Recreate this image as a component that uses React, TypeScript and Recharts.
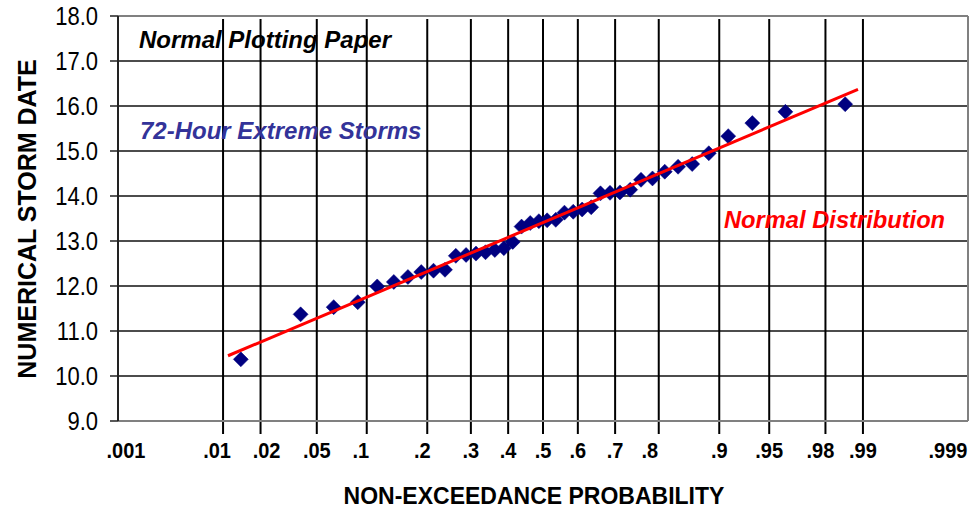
import React from 'react';
import { ComposedChart, Scatter, XAxis, YAxis, CartesianGrid, ReferenceLine } from 'recharts';

// Probability grid of the normal plotting paper
const probabilityTicks = [0.001, 0.01, 0.02, 0.05, 0.1, 0.2, 0.3, 0.4, 0.5, 0.6, 0.7, 0.8, 0.9, 0.95, 0.98, 0.99, 0.999];
const probabilityLabels = ['.001', '.01', '.02', '.05', '.1', '.2', '.3', '.4', '.5', '.6', '.7', '.8', '.9', '.95', '.98', '.99', '.999'];

// 72-hour extreme storms: plotting position and numerical storm date
const stormProbability = [
  0.014, 0.039, 0.064, 0.089, 0.114, 0.139, 0.163, 0.188, 0.213, 0.238,
  0.263, 0.288, 0.313, 0.338, 0.363, 0.388, 0.413, 0.438, 0.463, 0.488,
  0.512, 0.537, 0.562, 0.587, 0.612, 0.637, 0.662, 0.687, 0.712, 0.737,
  0.762, 0.787, 0.812, 0.837, 0.861, 0.886, 0.911, 0.936, 0.961, 0.986,
];
const stormDate = [
  10.37, 11.37, 11.53, 11.64, 11.99, 12.09, 12.2, 12.31, 12.34, 12.36,
  12.67, 12.69, 12.72, 12.75, 12.8, 12.84, 12.98, 13.32, 13.4, 13.44,
  13.46, 13.47, 13.63, 13.65, 13.7, 13.75, 14.06, 14.07, 14.08, 14.14,
  14.36, 14.39, 14.54, 14.65, 14.71, 14.95, 15.33, 15.62, 15.87, 16.04,
];

// Fitted normal distribution (straight line on normal paper)
const fitProbability = [0.011, 0.989];
const fitDate = [10.45, 16.37];

const dateTicks = [9, 10, 11, 12, 13, 14, 15, 16, 17, 18];

// Standard normal quantile (Acklam's rational approximation)
function normInv(p: number): number {
  const a = [-3.969683028665376e1, 2.209460984245205e2, -2.759285104469687e2, 1.38357751867269e2, -3.066479806614716e1, 2.506628277459239];
  const b = [-5.447609879822406e1, 1.615858368580409e2, -1.556989798598866e2, 6.680131188771972e1, -1.328068155288572e1];
  const c = [-7.784894002430293e-3, -3.223964580411365e-1, -2.400758277161838, -2.549732539343734, 4.374664141464968, 2.938163982698783];
  const d = [7.784695709041462e-3, 3.224671290700398e-1, 2.445134137142996, 3.754408661907416];
  const pl = 0.02425;
  if (p < pl) {
    const q = Math.sqrt(-2 * Math.log(p));
    return (((((c[0] * q + c[1]) * q + c[2]) * q + c[3]) * q + c[4]) * q + c[5]) / ((((d[0] * q + d[1]) * q + d[2]) * q + d[3]) * q + 1);
  }
  if (p > 1 - pl) {
    const q = Math.sqrt(-2 * Math.log(1 - p));
    return -(((((c[0] * q + c[1]) * q + c[2]) * q + c[3]) * q + c[4]) * q + c[5]) / ((((d[0] * q + d[1]) * q + d[2]) * q + d[3]) * q + 1);
  }
  const q = p - 0.5;
  const r = q * q;
  return ((((((a[0] * r + a[1]) * r + a[2]) * r + a[3]) * r + a[4]) * r + a[5]) * q) / (((((b[0] * r + b[1]) * r + b[2]) * r + b[3]) * r + b[4]) * r + 1);
}

const zTicks = probabilityTicks.map(normInv);
const zMin = zTicks[0];
const zMax = zTicks[zTicks.length - 1];

const stormPoints = stormProbability.map((p, i) => ({ z: normInv(p), y: stormDate[i] }));
const fitPoints = fitProbability.map((p, i) => ({ z: normInv(p), y: fitDate[i] }));

const FONT = '"Liberation Sans", Arial, Helvetica, sans-serif';

// small horizontal nudges for a few probability labels
const labelNudge: Record<string, number> = {
  '.001': 8, '.01': -6, '.02': 6, '.1': -6, '.2': -5, '.8': -9, '.98': -5, '.999': -20,
};

function ProbabilityTick(props: any) {
  const { x, y, payload } = props;
  let idx = zTicks.indexOf(payload.value);
  if (idx < 0) idx = props.index ?? 0;
  const label = probabilityLabels[idx];
  return (
    <g transform={`translate(${x + (labelNudge[label] || 0)},${y}) scale(1,1.1)`}>
      <text x={0} y={0} dy="0.71em" textAnchor="middle" fontFamily={FONT} fontSize={20} fontWeight="bold" fill="#000">
        {label}
      </text>
    </g>
  );
}

function DateTick(props: any) {
  const { x, y, payload } = props;
  return (
    <g transform={`translate(${x},${y}) scale(1,1.13)`}>
      <text x={0} y={0} dy="0.355em" textAnchor="end" fontFamily={FONT} fontSize={22} fill="#000">
        {Number(payload.value).toFixed(1)}
      </text>
    </g>
  );
}

function Diamond(props: any) {
  const { cx, cy } = props;
  if (cx == null || cy == null) return <g />;
  const h = 7.5;
  return (
    <polygon
      points={`${cx},${cy - h} ${cx + h},${cy} ${cx},${cy + h} ${cx - h},${cy}`}
      fill="#000080"
      stroke="#000080"
      strokeWidth={0.5}
    />
  );
}

function VerticalGridLine(p: any) {
  const last = zTicks.length - 1;
  if (p.index === 0 || p.index === last) return <g key={p.key} />;
  return (
    <line key={p.key} x1={p.x1} x2={p.x2} y1={p.y1 + 3} y2={p.y2 + 13} stroke="#000" strokeWidth={2} />
  );
}

function HorizontalGridLine(p: any) {
  return <line key={p.key} x1={p.x1} x2={p.x2} y1={p.y1} y2={p.y2} stroke="#111" strokeWidth={1.6} />;
}

export default function App() {
  return (
    <div style={{ position: 'absolute', left: 0, top: 0, width: 971, height: 510, background: '#fff' }}>
      <ComposedChart width={971} height={510} margin={{ top: 16, right: 3, bottom: 0, left: 0 }}>
        <CartesianGrid vertical={VerticalGridLine} horizontal={HorizontalGridLine} />
        <XAxis
          type="number"
          dataKey="z"
          domain={[zMin, zMax]}
          ticks={zTicks}
          allowDataOverflow
          interval={0}
          height={89}
          tickLine={false}
          tickSize={13}
          tickMargin={8}
          axisLine={{ stroke: '#808080', strokeWidth: 2 }}
          tick={<ProbabilityTick />}
        />
        <YAxis
          type="number"
          dataKey="y"
          domain={[9, 18]}
          ticks={dateTicks}
          interval={0}
          width={118}
          tickSize={8}
          tickMargin={12}
          axisLine={{ stroke: '#222', strokeWidth: 2 }}
          tickLine={{ stroke: '#222', strokeWidth: 1.5 }}
          tick={<DateTick />}
        />
        <ReferenceLine y={18} stroke="#808080" strokeWidth={2} />
        <ReferenceLine x={zMax} stroke="#808080" strokeWidth={2} />
        <Scatter name="72-Hour Extreme Storms" data={stormPoints} shape={<Diamond />} isAnimationActive={false} />
        <Scatter
          name="Normal Distribution"
          data={fitPoints}
          line={{ stroke: '#ff0000', strokeWidth: 3 }}
          shape={() => <g />}
          isAnimationActive={false}
        />
      </ComposedChart>
      <svg
        width={971}
        height={510}
        style={{ position: 'absolute', left: 0, top: 0, pointerEvents: 'none' }}
        fontFamily={FONT}
      >
        <text x={139} y={48} fontSize={24} fontWeight="bold" fontStyle="italic" fill="#000">
          Normal Plotting Paper
        </text>
        <text x={140} y={139} fontSize={24} fontWeight="bold" fontStyle="italic" fill="#333399">
          72-Hour Extreme Storms
        </text>
        <text x={724} y={228} fontSize={23.7} fontWeight="bold" fontStyle="italic" fill="#ff0000">
          Normal Distribution
        </text>
        <text transform="translate(36,219) rotate(-90)" textAnchor="middle" fontSize={25} fontWeight="bold" fill="#000">
          NUMERICAL STORM DATE
        </text>
        <text x={534} y={504} textAnchor="middle" fontSize={23} fontWeight="bold" fill="#000">
          NON-EXCEEDANCE PROBABILITY
        </text>
      </svg>
    </div>
  );
}
